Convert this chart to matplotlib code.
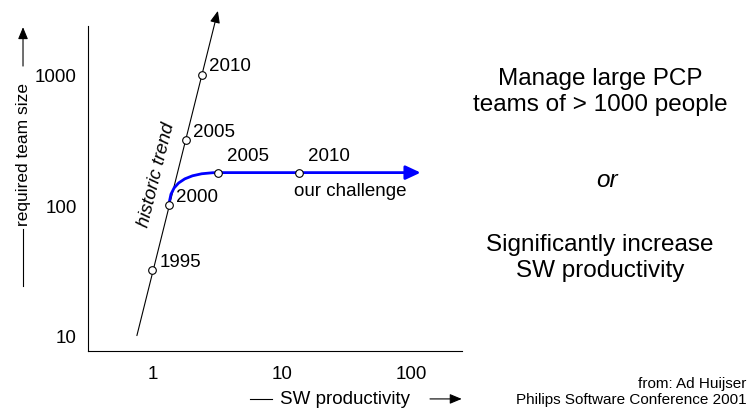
import matplotlib
matplotlib.use("Agg")
import matplotlib.pyplot as plt
from matplotlib.path import Path
from matplotlib.patches import PathPatch
from matplotlib.lines import Line2D

plt.rcParams['font.family'] = ['Liberation Sans', 'DejaVu Sans']

# historic trend (SW productivity vs required team size)
trend_years = ["1995", "2000", "2005", "2010"]
trend_prod = [1.0, 1.35, 1.81, 2.40]
trend_team = [31.6, 100, 316, 1000]
trend_start = (0.76, 10)
trend_tip = (3.2, 3100)

# our challenge
chal_years = ["2005", "2010"]
chal_prod = [3.23, 13.6]
chal_team = [178, 178]
chal_start = (1.35, 100)
chal_tip = (117, 178)

xticks = [1, 10, 100]
yticks = [10, 100, 1000]

fig = plt.figure(figsize=(7.52, 4.14), dpi=100)
ax = fig.add_axes([0.117, 0.150, 0.4974, 0.785])
ax.set_xscale("log")
ax.set_yscale("log")
ax.set_xlim(0.319, 244)
ax.set_ylim(7.63, 2377)

for s in ["top", "right"]:
    ax.spines[s].set_visible(False)
for s in ["left", "bottom"]:
    ax.spines[s].set_linewidth(0.8)

ax.set_xticks(xticks)
ax.set_xticklabels([str(v) for v in xticks])
ax.set_yticks(yticks)
ax.set_yticklabels([str(v) for v in yticks])
ax.minorticks_off()
ax.tick_params(length=0, labelsize=13.5)
ax.tick_params(axis="y", pad=8)
ax.tick_params(axis="x", pad=10)

# historic trend line with arrow
ax.annotate("", xy=trend_tip, xytext=trend_start, annotation_clip=False,
            arrowprops=dict(arrowstyle="-|>,head_length=0.6,head_width=0.25",
                            color="black", lw=0.8, mutation_scale=12,
                            shrinkA=0, shrinkB=0))
ax.plot(trend_prod, trend_team, "o", ms=5.5, mfc="white", mec="black",
        mew=0.8, zorder=5, clip_on=False)
for yr, x, y in zip(trend_years, trend_prod, trend_team):
    ax.annotate(yr, (x, y), xytext=(5, 6.5), textcoords="offset points",
                ha="left", va="center", fontsize=13.5)

ax.text(1.07, 174, "historic trend", rotation=76, style="italic",
        ha="center", va="center", fontsize=13.5, rotation_mode="anchor")

# our challenge curve
verts = [chal_start, (chal_start[0], chal_team[0]),
         (chal_prod[0], chal_team[0]), (chal_prod[1], chal_team[1])]
codes = [Path.MOVETO, Path.CURVE3, Path.CURVE3, Path.LINETO]
ax.add_patch(PathPatch(Path(verts, codes), fc="none", ec="blue", lw=2,
                       transform=ax.transData, zorder=3))
ax.annotate("", xy=chal_tip, xytext=(chal_prod[1], chal_team[1]),
            annotation_clip=False,
            arrowprops=dict(arrowstyle="-|>,head_length=0.75,head_width=0.35",
                            color="blue", lw=2, mutation_scale=12,
                            shrinkA=0, shrinkB=0), zorder=3)
ax.plot(chal_prod, chal_team, "o", ms=5.5, mfc="white", mec="black",
        mew=0.8, zorder=5)
for yr, x, y in zip(chal_years, chal_prod, chal_team):
    ax.annotate(yr, (x, y), xytext=(21, 12.5), textcoords="offset points",
                ha="center", va="center", fontsize=13.5)
ax.text(33.4, 130, "our challenge", ha="center", va="center", fontsize=13.5)

# axis labels with lines / arrows
fig.text(0.0306, 0.626, "required team size", rotation=90,
         ha="center", va="center", fontsize=12.5)
fig.add_artist(Line2D([0.0306, 0.0306], [0.307, 0.444],
                      transform=fig.transFigure, color="black", lw=0.8))
ax.annotate("", xy=(0.0306, 0.932), xytext=(0.0306, 0.838),
            xycoords="figure fraction", textcoords="figure fraction",
            arrowprops=dict(arrowstyle="-|>,head_length=0.6,head_width=0.25",
                            color="black", lw=0.8, mutation_scale=12,
                            shrinkA=0, shrinkB=0))

fig.text(0.459, 0.034, "SW productivity", ha="center", va="center",
         fontsize=13.5)
fig.add_artist(Line2D([0.3324, 0.3617], [0.034, 0.034],
                      transform=fig.transFigure, color="black", lw=0.8))
ax.annotate("", xy=(0.614, 0.034), xytext=(0.5718, 0.034),
            xycoords="figure fraction", textcoords="figure fraction",
            arrowprops=dict(arrowstyle="-|>,head_length=0.6,head_width=0.25",
                            color="black", lw=0.8, mutation_scale=12,
                            shrinkA=0, shrinkB=0))

# right-hand text
fig.text(0.798, 0.778, "Manage large PCP\nteams of > 1000 people",
         ha="center", va="center", multialignment="center", fontsize=17.5,
         linespacing=1.2)
fig.text(0.807, 0.565, "or", ha="center", va="center", fontsize=17.5,
         style="italic")
fig.text(0.798, 0.377, "Significantly increase\nSW productivity",
         ha="center", va="center", multialignment="center", fontsize=17.5,
         linespacing=1.2)

fig.text(0.993, 0.053, "from: Ad Huijser\nPhilips Software Conference 2001",
         ha="right", va="center", multialignment="right", fontsize=11,
         linespacing=1.25)

fig.savefig("out.png", dpi=100)
